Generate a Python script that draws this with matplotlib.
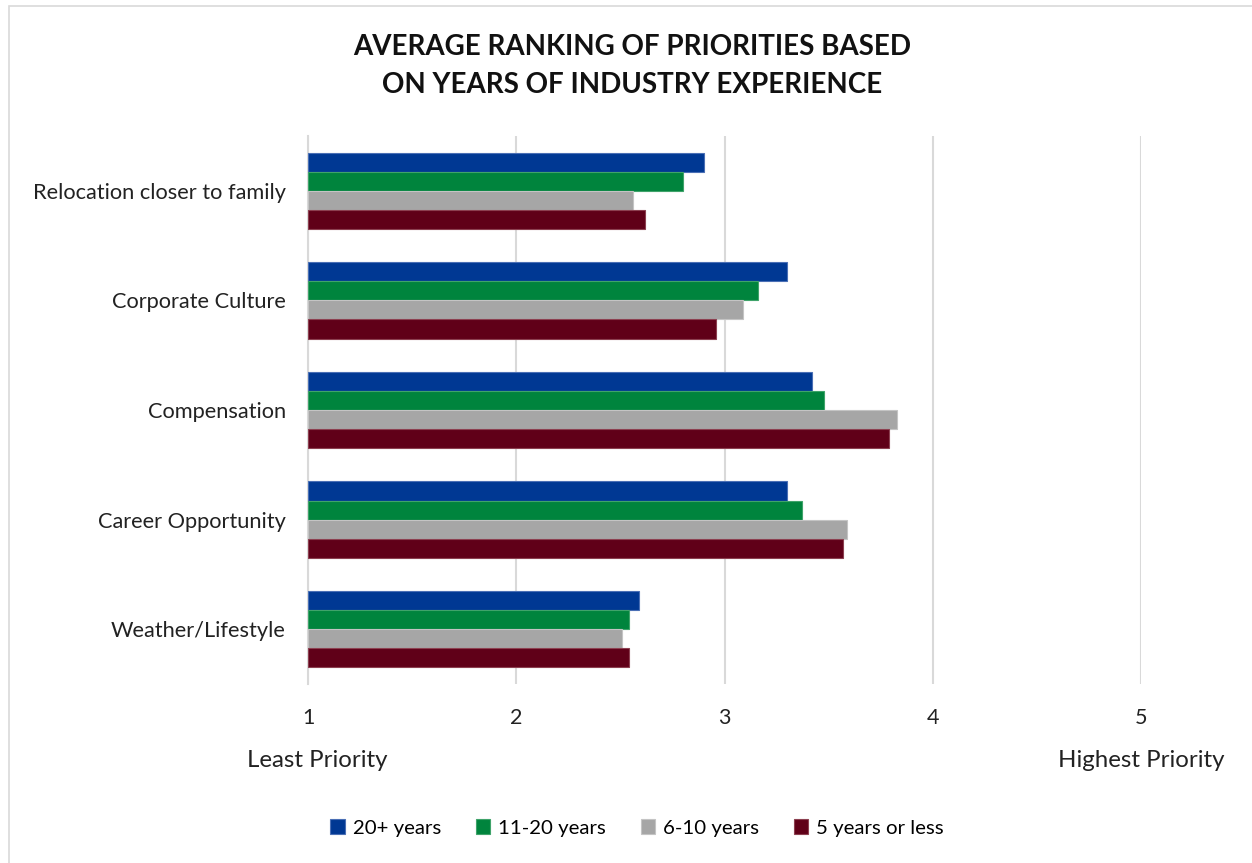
import matplotlib.pyplot as plt
import numpy as np
from matplotlib.patches import Rectangle

# data
categories = ["Relocation closer to family", "Corporate Culture", "Compensation",
              "Career Opportunity", "Weather/Lifestyle"]
series_names = ["20+ years", "11-20 years", "6-10 years", "5 years or less"]
years_20_plus = [2.90, 3.30, 3.42, 3.30, 2.59]
years_11_20 = [2.80, 3.16, 3.48, 3.37, 2.54]
years_6_10 = [2.56, 3.09, 3.83, 3.59, 2.51]
years_5_less = [2.62, 2.96, 3.79, 3.57, 2.54]
colors = ["#003893", "#00843D", "#A6A6A6", "#600018"]
edges = ["#4a6fb5", "#3fa36a", "#c4c4c4", "#8c4050"]

plt.rcParams['font.family'] = ['Lato', 'DejaVu Sans']

W, H = 1252, 863
fig = plt.figure(figsize=(W / 100, H / 100), dpi=100)
ax = fig.add_axes([308 / W, 1 - 684 / H, (1141 - 308) / W, (684 - 136) / H])

# outer chart border
fig.patches.append(Rectangle((9 / W, -0.01), 1.0, 1 - 6 / H + 0.01, transform=fig.transFigure,
                             fill=False, edgecolor="#d9d9d9", linewidth=1.2))

base = 1.0
bar_h = 0.174
y = np.arange(len(categories))
all_series = [years_20_plus, years_11_20, years_6_10, years_5_less]
for i, vals in enumerate(all_series):
    offs = (i - 1.5) * bar_h
    vals = np.array(vals)
    ax.barh(y + offs, vals - base, left=base, height=bar_h, color=colors[i],
            edgecolor=edges[i], linewidth=0.8, label=series_names[i], zorder=3)

ax.set_xlim(1, 5)
ax.set_ylim(len(categories) - 0.5, -0.5)
ax.set_xticks([1, 2, 3, 4, 5])
ax.set_xticklabels(["1", "2", "3", "4", "5"], fontsize=15.5, color="#222222")
ax.set_yticks(y)
ax.set_yticklabels(categories, fontsize=15.7, color="#222222")
ax.tick_params(axis="y", length=0, pad=16)
ax.tick_params(axis="x", length=0, pad=17)
ax.grid(axis="x", color="#d9d9d9", linewidth=1.5, zorder=0)
ax.set_axisbelow(True)
for s in ["top", "right", "bottom"]:
    ax.spines[s].set_visible(False)
ax.spines["left"].set_color("#d9d9d9")
ax.spines["left"].set_linewidth(1.5)

fig.text(632 / W, 1 - 47 / H, "AVERAGE RANKING OF PRIORITIES BASED", ha="center", va="center",
         fontsize=20, fontweight="bold", color="#111111")
fig.text(632 / W, 1 - 85 / H, "ON YEARS OF INDUSTRY EXPERIENCE", ha="center", va="center",
         fontsize=20, fontweight="bold", color="#111111")

fig.text(317 / W, 1 - 760 / H, "Least Priority", ha="center", va="center", fontsize=17.3, color="#222222")
fig.text(1141 / W, 1 - 760 / H, "Highest Priority", ha="center", va="center", fontsize=17.3, color="#222222")

handles, labels = ax.get_legend_handles_labels()
fig.legend(handles, labels, loc="center", bbox_to_anchor=(637 / W, 1 - 828 / H), ncol=4,
           frameon=False, fontsize=14.7, handlelength=0.7, handleheight=0.7,
           handletextpad=0.4, columnspacing=1.7)

fig.savefig("out.png", dpi=100, facecolor="white")
